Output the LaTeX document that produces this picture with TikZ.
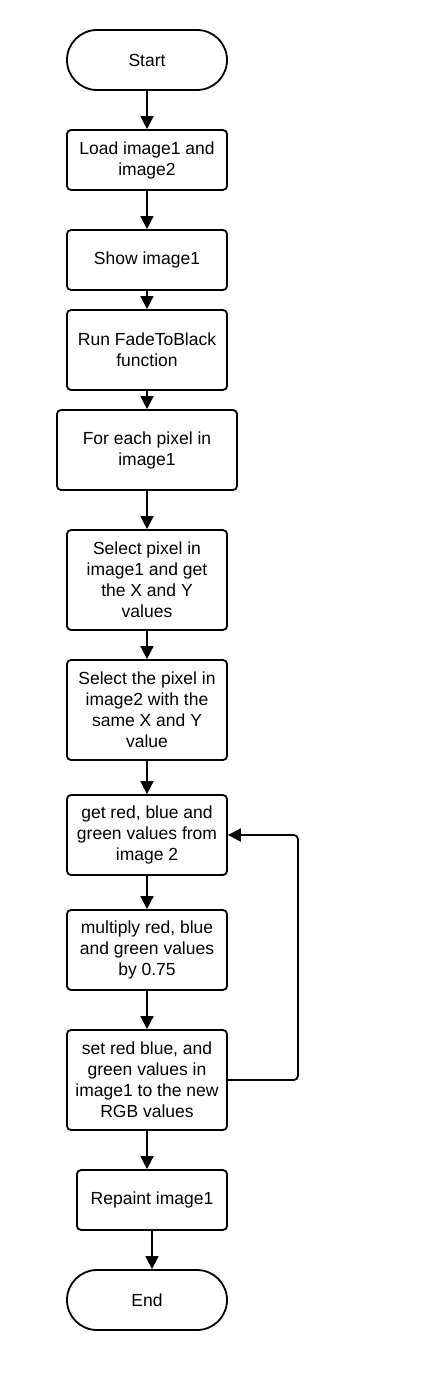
\documentclass[tikz,border=0pt]{standalone}
\usepackage{fontspec}
\setmainfont{Liberation Sans}
\usetikzlibrary{arrows.meta}
\tikzset{every node/.style={draw,line width=1.8pt,rounded corners=4pt,align=center,inner sep=0pt,
    font=\fontsize{17.5}{21}\selectfont},
  term/.style={rounded corners=30pt,minimum width=160pt,minimum height=60pt},
  proc/.style={minimum width=160pt,minimum height=#1},
  flow/.style={line width=1.8pt,-{Triangle[length=13pt,width=13pt]}}}

\begin{document}
\begin{tikzpicture}[x=1pt,y=-1pt]
      \useasboundingbox (0,0) rectangle (444,1380);
      \node[term] (start) at (147,60) {Start};
      \node[proc=60pt] (load) at (147,160) {Load image1 and\\image2};
      \node[proc=60pt] (show) at (147,260) {Show image1};
      \node[proc=80pt] (run) at (147,350) {Run FadeToBlack\\function};
      \node[proc=80pt,minimum width=180pt] (each) at (147,450) {For each pixel in\\image1};
      \node[proc=100pt] (sel1) at (147,580) {Select pixel in\\image1 and get\\the X and Y\\values};
      \node[proc=100pt] (sel2) at (147,710) {Select the pixel in\\image2 with the\\same X and Y\\value};
      \node[proc=80pt] (get) at (147,835) {get red, blue and\\green values from\\image 2};
      \node[proc=80pt] (mult) at (147,950) {multiply red, blue\\and green values\\by 0.75};
      \node[proc=100pt] (set) at (147,1080) {set red blue, and\\green values in\\image1 to the new\\RGB values};
      \node[proc=60pt,minimum width=150pt] (paint) at (152,1200) {Repaint image1};
      \node[term] (end) at (147,1300) {End};

\foreach \a/\b in {start/load,load/show,show/run,run/each,each/sel1,sel1/sel2,sel2/get,get/mult,mult/set,set/paint,paint/end}
  \draw[flow] (\a.south) -- (\a.south |- \b.north);
% back to the colour step
\draw[flow,rounded corners=4pt] (set.east) -- ++(70,0) |- (get.east);
    \end{tikzpicture}
\end{document}
